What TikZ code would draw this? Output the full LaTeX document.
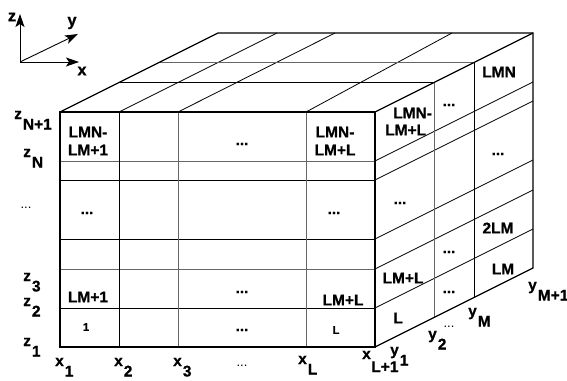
\documentclass[tikz,border=0pt]{standalone}
\usepackage{fontspec}
\setmainfont{Liberation Sans}[BoldFont={Liberation Sans Bold},BoldFeatures={FakeBold=0.8}]
\usetikzlibrary{arrows.meta}
\newcommand\lowsub[2]{#1\kern1pt\raisebox{-10.5pt}{#2}}
\newcommand\deepsub[2]{#1\kern0.5pt\raisebox{-13pt}{#2}}
\begin{document}
\begin{tikzpicture}[x=1pt,y=-1pt,
  outline/.style={line width=1.3pt,line join=miter},
  inner/.style={line width=0.8pt},
  soft/.style={line width=0.9pt,black!60},
  lbl/.style={font=\fontsize{15.5}{18}\selectfont\bfseries,inner sep=0pt},
  small/.style={font=\fontsize{11}{13}\selectfont\bfseries,inner sep=0pt},
  axis/.style={line width=0.9pt,-{Stealth[length=13pt,width=9pt,inset=3pt]}}]
\useasboundingbox (0,0) rectangle (567,380);

% axes
\coordinate (O) at (20,62);
\coordinate (Zt) at (20,14);
\coordinate (Yt) at (78,34);
\coordinate (Xt) at (79,62);
\draw[axis] (O) -- (Zt);
\draw[axis] (O) -- (Yt);
\draw[axis] (O) -- (Xt);
\node[lbl,font=\fontsize{16.5}{18}\selectfont\bfseries] (axz) at (12,17) {z};
\node[lbl,font=\fontsize{16.5}{18}\selectfont\bfseries] (axy) at (72,23) {y};
\node[lbl,font=\fontsize{16.5}{18}\selectfont\bfseries] (axx) at (82,71) {x};

% front face inner lines
\draw[soft]  (60,161) -- (375,161);
\draw[inner] (60,180) -- (375,180);
\draw[inner] (60,239) -- (375,239);
\draw[soft]  (60,269) -- (375,269);
\draw[inner] (60,308) -- (375,308);
\draw[inner] (119,112) -- (119,347);
\draw[soft]  (178,112) -- (178,347);
\draw[soft]  (306,112) -- (306,347);

% side face inner lines
\foreach \z in {161,180,239,269,308}
  \draw[inner] (375,\z) -- (533,\z-79);
\draw[soft]  (434,82.5) -- (434,317.5);
\draw[inner] (474,62.5) -- (474,297.5);

% top face inner lines
\draw[inner] (119,112) -- (277,33);
\draw[inner] (178,112) -- (335,33);
\draw[inner] (306,112) -- (452,33);
\draw[inner] (119,82.5) -- (434,82.5);
\draw[soft]  (159,62.5) -- (474,62.5);

% outline
\draw[outline] (60,112) rectangle (375,347);
\draw[outline] (60,112) -- (218,33) -- (533,33) -- (533,268) -- (375,347);
\draw[outline] (375,112) -- (533,33);

% front labels
\node[lbl,align=center,anchor=north] (f1) at (88,126.5) {LMN-\\LM+1};
\node[lbl,align=center,anchor=north] (f2) at (335,126.5) {LMN-\\LM+L};
\node[lbl] (d1) at (242,144) {...};
\node[lbl] (d2) at (87,213) {...};
\node[lbl] (d3) at (334,213) {...};
\node[lbl] (f3) at (88,297) {LM+1};
\node[lbl] (d4) at (242,292) {...};
\node[lbl] (f4) at (343,300) {LM+L};
\node[small] (f5) at (86,327) {1};
\node[lbl] (d5) at (242,330) {...};
\node[small] (f6) at (336,330) {L};

% side labels
\node[lbl,align=left,anchor=north west] (s1) at (385,107.5) {\hspace*{8pt}LMN-\\[-1pt]LM+L};
\node[lbl] (s2) at (449,105) {...};
\node[lbl] (s3) at (499,72) {LMN};
\node[lbl] (s4) at (498,154) {...};
\node[lbl] (s5) at (400,203) {...};
\node[lbl] (s6) at (498,228) {2LM};
\node[lbl] (s7) at (449,252) {...};
\node[lbl] (s8) at (403,278) {LM+L};
\node[lbl] (s9) at (449,292) {...};
\node[lbl] (s10) at (503,269) {LM};
\node[lbl] (s11) at (398,318) {L};

% z labels
\node[lbl,anchor=base west] (zN1) at (14,119) {\lowsub{z}{N+1}};
\node[lbl,anchor=base west] (zN) at (23,157) {\lowsub{z}{N}};
\node[small,font=\fontsize{13}{15}\selectfont] (zd) at (26,208) {...};
\node[lbl,anchor=base west] (z3) at (23,281) {\lowsub{z}{3}};
\node[lbl,anchor=base west] (z2) at (23,306) {\lowsub{z}{2}};
\node[lbl,anchor=base west] (z1) at (23,346) {\lowsub{z}{1}};

% x labels
\node[lbl,anchor=base west] (x1) at (55,366) {\lowsub{x}{1}};
\node[lbl,anchor=base west] (x2) at (114,366) {\lowsub{x}{2}};
\node[lbl,anchor=base west] (x3) at (173,366) {\lowsub{x}{3}};
\node[small,font=\fontsize{13}{15}\selectfont] (xd) at (242,366) {...};
\node[lbl,anchor=base west] (xL) at (298,364) {\lowsub{x}{L}};
\node[lbl,anchor=base west] (xL1) at (362,359) {\deepsub{x}{L+1}};

% y labels
\node[lbl,anchor=base west] (y1) at (390,355) {\lowsub{y}{1}};
\node[lbl,anchor=base west] (y2) at (428,339) {\lowsub{y}{2}};
\node[small,font=\fontsize{13}{15}\selectfont] (yd) at (449,327) {...};
\node[lbl,anchor=base west] (yM) at (468,316) {\lowsub{y}{M}};
\node[lbl,anchor=base west] (yM1) at (528,290) {\lowsub{y}{M+1}};
\end{tikzpicture}
\end{document}
